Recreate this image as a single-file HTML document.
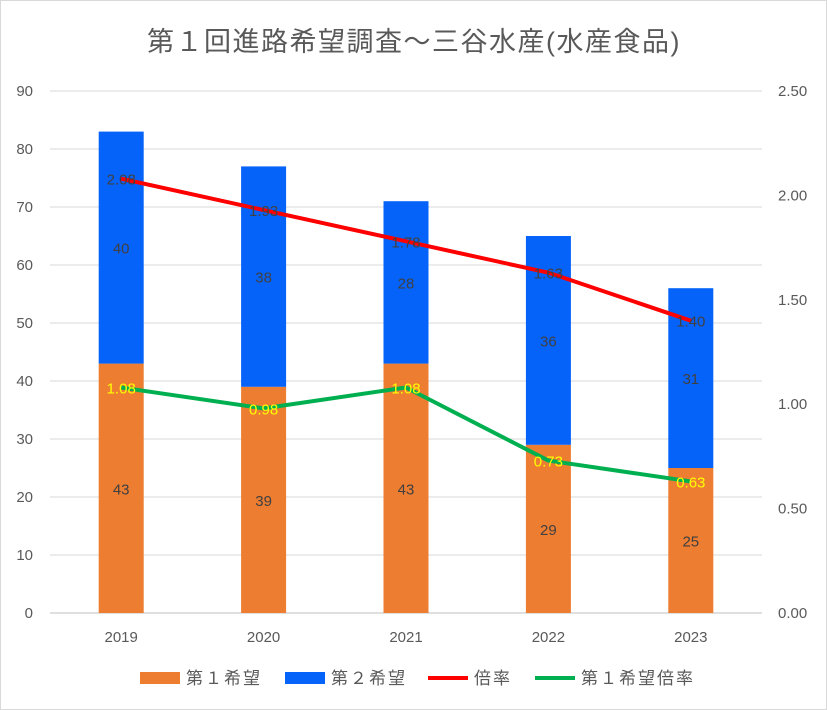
<!DOCTYPE html>
<html><head><meta charset="utf-8"><style>
body{margin:0;background:#fff;}
svg{display:block;font-family:"Liberation Sans","Noto Sans CJK JP",sans-serif;}
</style></head><body>
<svg width="827" height="710" viewBox="0 0 827 710">
<rect x="0.5" y="0.5" width="826" height="709" fill="#fff" stroke="#d9d9d9"/>
<text x="414" y="51" text-anchor="middle" font-size="27" letter-spacing="1.5" fill="#595959">第１回進路希望調査～三谷水産(水産食品)</text>
<g id="grid"></g>
<g id="bars"></g>
<g id="lines"></g>
<g id="axes"></g>
<g font-size="17" letter-spacing="2" fill="#595959">
<rect x="140" y="672" width="40" height="12" fill="#ED7D31"/>
<text x="186" y="684">第１希望</text>
<rect x="285" y="672" width="40" height="12" fill="#0563FA"/>
<text x="331" y="684">第２希望</text>
<line x1="428" y1="678" x2="468" y2="678" stroke="#FF0000" stroke-width="4"/>
<text x="474" y="684">倍率</text>
<line x1="535" y1="678" x2="575" y2="678" stroke="#00B050" stroke-width="4"/>
<text x="581" y="684">第１希望倍率</text>
</g>
</svg>
<script>
const categories=["2019","2020","2021","2022","2023"];
const first=[43,39,43,29,25];
const second=[40,38,28,36,31];
const ratio=[2.08,1.93,1.78,1.63,1.40];
const firstRatio=[1.08,0.98,1.08,0.73,0.63];
const leftTicks=[0,10,20,30,40,50,60,70,80,90];
const rightTicks=["0.00","0.50","1.00","1.50","2.00","2.50"];
const NS="http://www.w3.org/2000/svg";
const X0=50,X1=762,Y0=613,Y1=91;
const yL=v=>Y0-(v/90)*(Y0-Y1);
const yR=v=>Y0-(v/2.5)*(Y0-Y1);
const cw=(X1-X0)/categories.length;
const xC=i=>X0+cw*(i+0.5);
function mk(t,a,p){const e=document.createElementNS(NS,t);for(const k in a)e.setAttribute(k,a[k]);p.appendChild(e);return e;}
const G=document.getElementById('grid'),B=document.getElementById('bars'),L=document.getElementById('lines'),A=document.getElementById('axes');
leftTicks.forEach(v=>{
 const l=mk('line',{x1:X0,x2:X1,y1:yL(v),y2:yL(v),stroke:v===0?'#bfbfbf':'#d9d9d9','stroke-width':1},G);
 
 
 const t=mk('text',{x:33,y:yL(v)+5,'text-anchor':'end','font-size':15,fill:'#595959'},A);t.textContent=v;
 
 
});
rightTicks.forEach(s=>{
 const t=mk('text',{x:778,y:yR(parseFloat(s))+5,'font-size':15,fill:'#595959'},A);t.textContent=s;
 
 
});
const bw=45;
categories.forEach((c,i)=>{
 const x=xC(i)-bw/2;
 const r1=mk('rect',{x:x,y:yL(first[i]),width:bw,height:Y0-yL(first[i]),fill:'#ED7D31'},B);
 
 
 const r2=mk('rect',{x:x,y:yL(first[i]+second[i]),width:bw,height:yL(first[i])-yL(first[i]+second[i]),fill:'#0563FA'},B);
 
 
 const t1=mk('text',{x:xC(i),y:(yL(first[i])+Y0)/2+6,'text-anchor':'middle','font-size':15,fill:'#404040'},B);t1.textContent=first[i];
 
 
 const t2=mk('text',{x:xC(i),y:(yL(first[i])+yL(first[i]+second[i]))/2+6,'text-anchor':'middle','font-size':15,fill:'#404040'},B);t2.textContent=second[i];
 
 
 const tc=mk('text',{x:xC(i),y:642,'text-anchor':'middle','font-size':15,fill:'#595959'},A);tc.textContent=c;
 
 
});
function line(vals,col,lcol,name){
 const p=mk('polyline',{points:vals.map((v,i)=>xC(i)+','+yR(v)).join(' '),fill:'none',stroke:col,'stroke-width':4,'stroke-linejoin':'round'},L);
 
 
 vals.forEach((v,i)=>{
  const t=mk('text',{x:xC(i),y:yR(v)+6,'text-anchor':'middle','font-size':15,fill:lcol},L);t.textContent=v.toFixed(2);
  
  
 });
}
line(ratio,'#FF0000','#404040','ratio-line');
line(firstRatio,'#00B050','#FFFF00','first-ratio-line');
</script>
</body></html>
